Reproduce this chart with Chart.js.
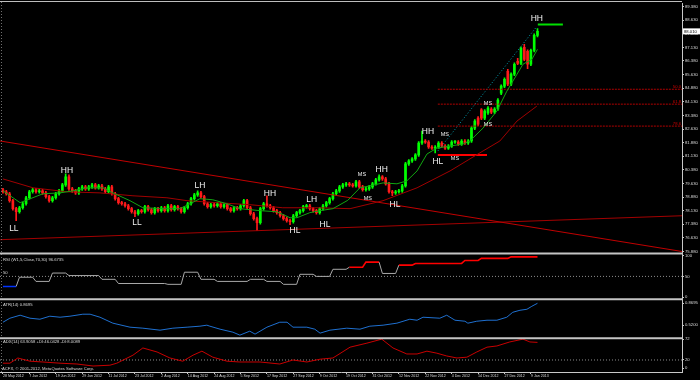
<!DOCTYPE html>
<html><head><meta charset="utf-8">
<script src="https://cdn.jsdelivr.net/npm/chart.js@4/dist/chart.umd.min.js"></script>
<style>html,body{margin:0;padding:0;background:#000;overflow:hidden}canvas{display:block}</style>
</head><body>
<canvas id="c" width="700" height="380"></canvas>
<script>
// ---------- DATA ----------
const DATE_BARS = [0,8,16,24,32,40,48,56,64,72,80,88,96,104,112,120,128,136,144,152,160];
const DATE_LABELS = ['28 May 2012','7 Jun 2012','19 Jun 2012','29 Jun 2012','11 Jul 2012','23 Jul 2012','2 Aug 2012','14 Aug 2012','24 Aug 2012','5 Sep 2012','17 Sep 2012','27 Sep 2012','9 Oct 2012','19 Oct 2012','31 Oct 2012','12 Nov 2012','22 Nov 2012','4 Dec 2012','14 Dec 2012','27 Dec 2012','9 Jan 2013'];

const OPEN = [79.28,79.17,79.06,78.68,78.24,78.07,78.29,78.51,78.84,79.17,
79.28,79.17,79.22,79.11,78.90,78.68,78.84,79.06,79.22,79.55,
79.99,79.33,79.22,79.11,79.33,79.44,79.33,79.44,79.55,79.39,
79.50,79.33,79.17,79.44,79.06,78.79,78.57,78.51,78.40,78.24,
78.07,77.96,78.13,78.07,78.35,78.18,78.02,78.24,78.13,78.29,
78.13,78.40,78.18,78.35,78.24,78.07,78.29,78.51,78.79,79.00,
79.11,78.90,78.51,78.35,78.46,78.40,78.51,78.35,78.46,78.24,
78.13,78.29,78.24,78.40,78.68,78.29,77.96,77.69,77.47,78.24,
78.51,78.40,78.29,78.13,78.02,77.85,77.69,77.58,77.52,77.85,
78.02,78.13,78.35,78.40,78.24,78.13,78.02,78.24,78.40,78.57,
78.79,79.06,79.22,79.44,79.55,79.61,79.55,79.50,79.72,79.44,
79.28,79.33,79.44,79.61,79.83,79.99,79.88,79.61,79.17,79.11,
79.17,79.22,79.50,80.71,80.87,80.98,81.20,81.86,81.97,81.91,
81.64,81.58,81.64,81.86,81.69,81.58,81.69,81.91,81.91,81.80,
81.97,81.86,81.97,82.68,83.23,83.68,83.23,83.51,83.73,83.56,
83.73,84.60,84.99,85.81,85.10,85.65,86.36,86.25,87.13,86.91,
86.20,86.96,87.79];
const HIGH = [79.36,79.25,79.14,78.76,78.32,78.37,78.59,78.92,79.25,79.36,
79.36,79.30,79.30,79.19,78.98,78.92,79.14,79.30,79.63,80.16,
80.10,79.41,79.30,79.41,79.52,79.52,79.52,79.63,79.63,79.58,
79.58,79.41,79.52,79.52,79.14,78.87,78.65,78.59,78.48,78.32,
78.15,78.21,78.21,78.43,78.43,78.26,78.32,78.32,78.37,78.37,
78.48,78.48,78.43,78.43,78.32,78.37,78.59,78.87,79.08,79.22,
79.19,78.98,78.59,78.54,78.54,78.59,78.59,78.54,78.54,78.32,
78.37,78.37,78.48,78.76,78.76,78.37,78.04,77.77,78.32,78.59,
78.95,78.48,78.37,78.21,78.10,77.93,77.77,77.66,77.93,78.10,
78.21,78.43,78.48,78.48,78.32,78.21,78.32,78.48,78.65,78.87,
79.14,79.30,79.52,79.63,79.69,79.69,79.63,79.80,79.80,79.52,
79.41,79.52,79.69,79.91,80.10,80.07,79.96,79.69,79.25,79.25,
79.30,79.58,80.79,80.95,81.06,81.28,81.94,82.52,82.05,81.99,
81.72,81.72,81.94,81.94,81.77,81.77,81.99,81.99,81.99,82.05,
82.05,82.05,82.76,83.15,83.31,83.76,83.70,83.86,83.81,83.81,
84.30,85.07,85.45,85.92,85.73,86.28,86.53,87.16,87.30,86.99,
87.04,87.87,88.17];
const LOW = [79.09,78.98,78.60,78.16,77.58,77.99,78.21,78.43,78.76,79.09,
79.09,79.09,79.03,78.82,78.60,78.60,78.76,78.98,79.14,79.47,
79.25,79.14,79.03,79.03,79.25,79.25,79.25,79.36,79.31,79.31,
79.25,79.09,79.09,78.98,78.71,78.49,78.43,78.32,78.16,77.99,
77.80,77.88,77.99,77.99,78.10,77.94,77.94,78.05,78.05,78.05,
78.05,78.10,78.10,78.16,77.99,77.99,78.21,78.43,78.71,78.92,
78.82,78.43,78.27,78.27,78.32,78.32,78.27,78.27,78.16,78.05,
78.05,78.16,78.16,78.32,78.21,77.88,77.61,77.03,77.39,78.16,
78.32,78.21,78.05,77.94,77.77,77.61,77.50,77.36,77.44,77.77,
77.94,78.05,78.27,78.16,78.05,77.94,77.94,78.16,78.32,78.49,
78.71,78.98,79.14,79.36,79.47,79.47,79.42,79.42,79.36,79.20,
79.20,79.25,79.36,79.53,79.75,79.80,79.53,79.09,78.95,79.03,
79.09,79.14,79.42,80.63,80.79,80.90,81.12,81.78,81.83,81.56,
81.50,81.31,81.56,81.61,81.50,81.50,81.61,81.83,81.72,81.72,
81.78,81.78,81.89,82.60,82.82,83.15,83.15,83.43,83.48,83.48,
83.65,84.52,84.91,85.02,85.02,85.57,86.17,86.17,86.39,85.95,
86.12,86.88,87.71];
const CLOSE = [79.17,79.06,78.68,78.24,78.07,78.29,78.51,78.84,79.17,79.28,
79.17,79.22,79.11,78.90,78.68,78.84,79.06,79.22,79.55,79.99,
79.33,79.22,79.11,79.33,79.44,79.33,79.44,79.55,79.39,79.50,
79.33,79.17,79.44,79.06,78.79,78.57,78.51,78.40,78.24,78.07,
77.96,78.13,78.07,78.35,78.18,78.02,78.24,78.13,78.29,78.13,
78.40,78.18,78.35,78.24,78.07,78.29,78.51,78.79,79.00,79.11,
78.90,78.51,78.35,78.46,78.40,78.51,78.35,78.46,78.24,78.13,
78.29,78.24,78.40,78.68,78.29,77.96,77.69,77.47,78.24,78.51,
78.40,78.29,78.13,78.02,77.85,77.69,77.58,77.52,77.85,78.02,
78.13,78.35,78.40,78.24,78.13,78.02,78.24,78.40,78.57,78.79,
79.06,79.22,79.44,79.55,79.61,79.55,79.50,79.72,79.44,79.28,
79.33,79.44,79.61,79.83,79.99,79.88,79.61,79.17,79.11,79.17,
79.22,79.50,80.71,80.87,80.98,81.20,81.86,81.97,81.91,81.64,
81.58,81.64,81.86,81.69,81.58,81.69,81.91,81.91,81.80,81.97,
81.86,81.97,82.68,83.07,82.90,83.23,83.62,83.78,83.56,83.73,
84.22,84.99,85.37,85.10,85.65,86.20,86.25,87.08,86.47,86.20,
86.96,87.79,88.01];

const MA_FAST_X = [0,5.2,12.1,17.3,21.2,25.5,30.3,33.3,38.5,42.4,49.7,53.6,56.7,59.7,63.6,67.9,71.8,77.9,83.0,87.0,89.1,93.0,96.1,100,104.5,108.2,111.2,115.2,119.4,122.4,125.5,128.5,131.5,135.5,139.4,141.5,145.5,149.7,152.7,155.8,157.6,160.3,162];
const MA_FAST = [79.22,78.57,79.06,79.11,79.22,79.39,79.39,79.11,78.68,78.29,78.24,78.24,78.51,78.79,78.73,78.51,78.24,78.13,78.07,77.74,77.74,78.02,78.13,78.24,78.70,79.39,79.50,79.66,79.61,79.77,80.32,81.25,81.58,81.69,81.80,81.97,82.68,83.62,84.71,85.65,86.20,86.47,87.02];
const MA_SLOW_X = [0,9.1,19.4,29.4,39.4,49.7,55.8,64.8,74.8,84.8,95.2,105.2,115.2,125.5,135.5,145.5,150.6,155.8,161.8];
const MA_SLOW = [79.88,79.39,79.17,79.11,78.95,78.84,78.68,78.57,78.46,78.29,78.29,78.24,78.68,79.39,80.32,81.42,81.97,83.07,83.89];

const TREND_X = [-0.9,205.8];
const TREND_DOWN = [81.97,75.88];
const TREND_UP = [76.53,77.85];
const FIB_X = [131.8,205.8];
const FIB_LEVELS = [84.82,84.00,82.79];
const FIB_LABELS = ['50.0','61.8','78.6'];
const SUPPORT_X = [131.8,146.7];
const SUPPORT_Y = [81.20,81.20];
const TOP_X = [162.1,169.7];
const TOP_Y = [88.39,88.39];
const CHANNEL_X = [131.8,161.8];
const CHANNEL_Y = [81.42,88.28];

const MARK_TEXT = ['LL','HH','LL','LH','HH','HL','LH','HL','MS','HH','MS','HL','HH','MS','HL','MS','MS','MS','HH'];
const MARK_X = [3.3,19.4,40.6,59.7,80.9,88.5,93.6,97.6,108.8,114.8,110.6,118.8,128.8,133.9,131.8,137,147,147,161.8];
const MARK_Y = [77.14,80.32,77.47,79.50,79.06,77.03,78.73,77.36,80.10,80.38,78.78,78.45,82.46,82.35,80.82,80.98,84.05,82.90,88.72];

const RSI_X = [0,4,5,9,10,14,15,19,20,29,30,34,35,49,50,54,55,59,60,64,65,74,75,79,80,84,85,89,90,94,95,99,100,104,105,109,110,114,115,119,120,124,125,139,140,144,145,153,154,162];
const RSI = [26,26,48,48,38,38,58,58,52,52,43,43,33,33,31,31,60,60,43,43,38,38,43,43,38,38,31,31,55,55,50,50,67,67,72,72,84,84,57,57,77,77,81,81,88,88,93,93,96.67,96.67];
const RSI_LEVEL = [50];

const ATR_X = [0,2.1,5.2,8.2,11.2,14.2,17.3,20.3,24.2,26.4,29.4,33.3,38.5,42.4,47.6,51.5,55.8,59.7,61.8,62.7,65.8,69.7,71.8,74.8,76.4,80,83.9,86.1,87.9,92.1,94.5,96.1,99.1,104.2,108.2,111.2,115.2,119.4,123.3,125.5,127.3,132.4,134.5,137,140,140.9,143.6,146.7,149.7,152.7,154.5,156.7,158.8,160.3,162];
const ATR = [0.567,0.631,0.679,0.631,0.615,0.663,0.647,0.663,0.695,0.695,0.647,0.552,0.488,0.472,0.440,0.472,0.488,0.504,0.520,0.504,0.456,0.408,0.361,0.424,0.377,0.488,0.567,0.567,0.488,0.488,0.456,0.393,0.440,0.472,0.456,0.504,0.520,0.552,0.615,0.599,0.647,0.631,0.679,0.599,0.583,0.552,0.583,0.599,0.599,0.647,0.726,0.758,0.774,0.822,0.8695];

const ADX_X = [0,2.1,4.5,8.2,12.1,17.3,22.4,27.3,32.4,34.5,39.4,42.4,46.7,50.6,54.5,57.6,60.3,63.6,67.9,71.8,77.9,83.9,87.9,92.1,96.1,100,105.2,110.3,114.8,118.2,122.4,125.5,128.5,131.5,134.5,137.6,140.6,143.6,146.7,149.7,153.6,157.6,159.7,162];
const ADX = [12,12,25,17,15,12,10,5,7,12,32,50,40,25,17,32,42,27,17,15,15,10,20,15,22,25,52,62,72,50,35,35,42,37,30,25,27,40,52,55,65,72,65,63.91];
const ADX_LEVEL = [20];

const PRICE_TICKS = [75.88,76.63,77.38,78.13,78.88,79.63,80.38,81.13,81.88,82.63,83.38,84.13,84.88,85.63,86.38,87.13,87.88,88.63,89.38];
const RSI_TICKS = [0,50,100];
const ATR_TICKS = [0.5200,0.8695];
const ADX_TICKS = [0,20,72];
const PANEL_TITLES = ['RSI (W1,5,Close,70,30) 96.6735','ATR(14) 0.8695','ADX(14) 63.9058 +DI:46.0428 -DI:8.0089'];
const COPYRIGHT = 'ACFX, \u00A9 2001-2012, MetaQuotes Software Corp.';

// ---------- STYLE ----------
const UP = '#00ff00', DOWN = '#ff1a1a';
const SMALL = 'Liberation Sans';
const XMIN = -0.9, XMAX = 205.8;

const idx = CLOSE.map((c,i)=>i);
const candleColor = idx.map(i => CLOSE[i] >= OPEN[i] ? UP : DOWN);
const pts = (xs, ys) => xs.map((x,i)=>({x, y: ys[i]}));
const lineDs = (data, color, extra) => Object.assign({type:'line', data, borderColor:color, borderWidth:1, pointRadius:0, fill:false, tension:0, yAxisID:'y', order:0}, extra||{});

const datasets = [
  lineDs(pts(MA_FAST_X, MA_FAST), '#11a611'),
  lineDs(pts(MA_SLOW_X, MA_SLOW), '#a00000'),
  lineDs(pts(TREND_X, TREND_DOWN), '#c00000'),
  lineDs(pts(TREND_X, TREND_UP), '#a30000'),
  ...FIB_LEVELS.map(v => lineDs(pts(FIB_X, [v,v]), '#b00000', {borderDash:[2,1]})),
  lineDs(pts(SUPPORT_X, SUPPORT_Y), '#ff0000', {borderWidth:2}),
  lineDs(pts(TOP_X, TOP_Y), '#00e000', {borderWidth:2}),
  lineDs(pts(CHANNEL_X, CHANNEL_Y), '#00a0b0', {borderDash:[1,2]}),
  {type:'bar', data: idx.map(i=>({x:i, y:[OPEN[i], CLOSE[i]]})), backgroundColor: candleColor, borderWidth:0, barThickness:2, minBarLength:1, grouped:false, yAxisID:'y', order:1},
  {type:'bar', data: idx.map(i=>({x:i, y:[LOW[i], HIGH[i]]})), backgroundColor: candleColor, borderWidth:0, barThickness:1, grouped:false, yAxisID:'y', order:2},
  lineDs(pts(RSI_X, RSI), '#a8a8a8', {yAxisID:'rsi', segment:{
    borderColor: c => { const a=c.p0.parsed.y, b=c.p1.parsed.y; if (Math.min(a,b)>=70) return '#ff0000'; if (Math.max(a,b)<=30) return '#0033ff'; return '#a8a8a8'; },
    borderWidth: c => { const a=c.p0.parsed.y, b=c.p1.parsed.y; return (Math.min(a,b)>=70 || Math.max(a,b)<=30) ? 1.6 : 1; }
  }}),
  lineDs(pts([XMIN,XMAX], [RSI_LEVEL[0],RSI_LEVEL[0]]), '#8c8c8c', {yAxisID:'rsi', borderDash:[1,2]}),
  lineDs(pts(ATR_X, ATR), '#1f70d0', {yAxisID:'atr'}),
  lineDs(pts(ADX_X, ADX), '#c80000', {yAxisID:'adx'}),
  lineDs(pts([XMIN,XMAX], [ADX_LEVEL[0],ADX_LEVEL[0]]), '#8c8c8c', {yAxisID:'adx', borderDash:[1,2]})
];

const yAxis = (weight, min, max, ticksArr, fmt) => ({
  type:'linear', position:'right', stack:'panels', stackWeight:weight, min, max, offset:false,
  afterBuildTicks: s => { s.ticks = ticksArr.map(v=>({value:v})); },
  afterFit: s => { s.width = 18; },
  ticks: { autoSkip:false, font:{size:4.2, family:SMALL}, color:'#dcdcdc', padding:1, callback: fmt },
  grid: { drawOnChartArea:false, drawTicks:true, tickLength:2, color:'#c8c8c8' },
  border: { display:true, color:'#c8c8c8', width:1 }
});

const overlay = {
  id:'overlay',
  beforeDraw(chart){ const c=chart.ctx; c.save(); c.fillStyle='#000'; c.fillRect(0,0,chart.width,chart.height); c.restore(); },
  afterDraw(chart){
    const {ctx, scales} = chart; const x=scales.x, y=scales.y;
    ctx.save();
    ctx.strokeStyle='#bdbdbd'; ctx.lineWidth=1;
    ctx.beginPath(); ctx.moveTo(0,1.5); ctx.lineTo(x.right,1.5); ctx.stroke();
    ctx.setLineDash([1,2]); ctx.strokeStyle='#707070';
    ctx.beginPath(); ctx.moveTo(1.5,2); ctx.lineTo(1.5,scales.adx.bottom); ctx.stroke();
    ctx.setLineDash([]);
    ctx.strokeStyle='#c4c4c4'; ctx.lineWidth=2;
    [scales.rsi.top, scales.atr.top, scales.adx.top].forEach(t=>{ ctx.beginPath(); ctx.moveTo(0,t); ctx.lineTo(x.right+1,t); ctx.stroke(); });
    ctx.fillStyle='#f2f2f2'; ctx.textAlign='center'; ctx.textBaseline='middle';
    MARK_TEXT.forEach((t,i)=>{
      ctx.font = (t==='MS' ? '5.5px ' : '8.5px ') + '"Liberation Sans"';
      ctx.fillText(t, x.getPixelForValue(MARK_X[i]), y.getPixelForValue(MARK_Y[i]));
    });
    ctx.fillStyle='#d00000'; ctx.textAlign='right'; ctx.textBaseline='bottom'; ctx.font='4.2px "Liberation Sans"';
    FIB_LEVELS.forEach((v,i)=> ctx.fillText(FIB_LABELS[i], x.right-1, y.getPixelForValue(v)));
    ctx.fillStyle='#d8d8d8'; ctx.textAlign='left'; ctx.textBaseline='middle'; ctx.font='4.2px "Liberation Sans"';
    ctx.fillText(PANEL_TITLES[0], 3, scales.rsi.top+6);
    ctx.fillText(PANEL_TITLES[1], 3, scales.atr.top+6);
    ctx.fillText(PANEL_TITLES[2], 3, scales.adx.top+4);
    ctx.fillText(String(RSI_LEVEL[0]), 3, scales.rsi.getPixelForValue(RSI_LEVEL[0])-4);
    ctx.fillText(COPYRIGHT, 2, scales.adx.bottom-3);
    const last = CLOSE[CLOSE.length-1]; const py = y.getPixelForValue(last);
    ctx.fillStyle='#ffffff'; ctx.fillRect(x.right+1, py-3, 18, 6);
    ctx.fillStyle='#000'; ctx.font='4.2px "Liberation Sans"'; ctx.fillText(last.toFixed(3), x.right+2, py);
    ctx.restore();
  }
};

new Chart(document.getElementById('c'), {
  type:'bar',
  data:{ datasets },
  options:{
    responsive:false, animation:false, events:[],
    layout:{ padding:{ top:2, left:0, right:0, bottom:0 } },
    plugins:{ legend:{display:false}, tooltip:{enabled:false} },
    scales:{
      x:{ type:'linear', min:XMIN, max:XMAX, offset:false,
        afterBuildTicks: s => { s.ticks = DATE_BARS.map(v=>({value:v})); },
        afterFit: s => { s.height = 8; },
        ticks:{ autoSkip:false, maxRotation:0, align:'start', font:{size:3.6, family:SMALL}, color:'#dcdcdc', padding:0,
          callback: v => DATE_LABELS[DATE_BARS.indexOf(v)] },
        grid:{ drawOnChartArea:false, tickLength:2, color:'#c8c8c8', offset:false },
        border:{ color:'#c8c8c8' } },
      y: yAxis(251, 75.77, 89.545, PRICE_TICKS, v => v.toFixed(3)),
      rsi: yAxis(46, -4.76, 104.76, RSI_TICKS, v => String(v)),
      atr: yAxis(39, 0.313, 0.933, ATR_TICKS, v => v.toFixed(4)),
      adx: yAxis(34, -9.93, 74.48, ADX_TICKS, v => String(v))
    }
  },
  plugins:[overlay]
});
</script>
</body></html>
